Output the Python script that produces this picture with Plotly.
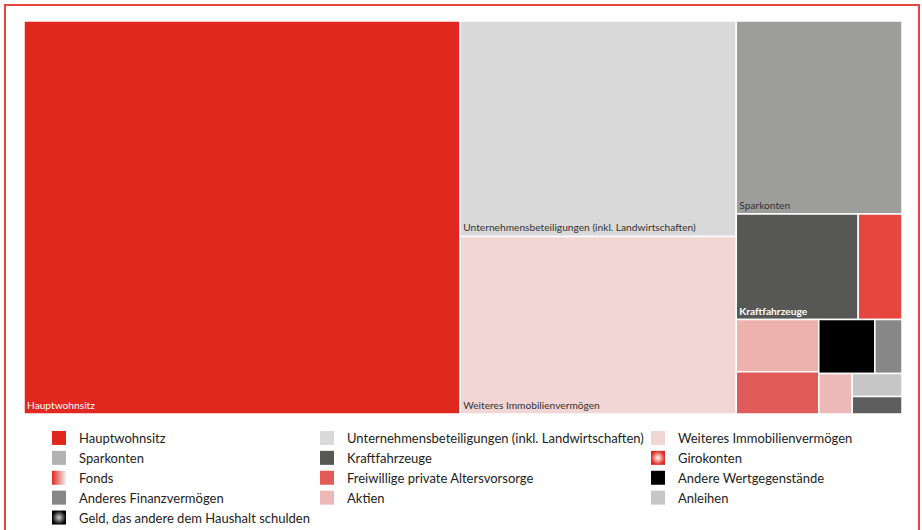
import plotly.graph_objects as go

# ---- data ----
categories = [
    "Hauptwohnsitz",
    "Unternehmensbeteiligungen (inkl. Landwirtschaften)",
    "Weiteres Immobilienvermögen",
    "Sparkonten",
    "Kraftfahrzeuge",
    "Girokonten",
    "Fonds",
    "Freiwillige private Altersvorsorge",
    "Andere Wertgegenstände",
    "Anderes Finanzvermögen",
    "Aktien",
    "Anleihen",
    "Geld, das andere dem Haushalt schulden",
]
values = [49.3, 17.1, 14.1, 9.2, 3.7, 1.33, 1.24, 1.0, 0.87, 0.42, 0.39, 0.33, 0.25]

tile_colors = ["#e0281e", "#d9d9d9", "#f2d5d5", "#9d9d9c", "#575756", "#e5463d",
               "#eeb2ac", "#e15b59", "#000000", "#878787", "#ecb9b8", "#c6c6c6", "#5e5e5e"]
legend_colors = ["#e0281e", "#d9d9d9", "#f2d5d5", "#b2b2b2", "#575756", "#e0281e",
                 "#e0281e", "#e15b59", "#000000", "#878787", "#ecb9b8", "#c6c6c6", "#000000"]
legend_gradients = [None, None, None, None, None, ("radial", "#ffffff"),
                    ("horizontal", "#f2f2f2"), None, None, None, None, None, ("radial", "#d0d0d0")]
tile_text = ["Hauptwohnsitz", "Unternehmensbeteiligungen (inkl. Landwirtschaften)",
             "Weiteres Immobilienvermögen", "Sparkonten", "<b>Kraftfahrzeuge</b>",
             "", "", "", "", "", "", "", ""]
text_colors = ["#ffffff", "#333333", "#333333", "#333333", "#ffffff"] + ["#333333"] * 8
legend_column = [1, 2, 3, 1, 2, 3, 1, 2, 3, 1, 2, 3, 1]

FONT = "Lato, 'Source Sans Pro', sans-serif"
W, H = 922, 530

fig = go.Figure()
fig.add_trace(go.Treemap(
    labels=categories,
    parents=[""] * len(categories),
    values=values,
    text=tile_text,
    textinfo="text",
    textposition="bottom left",
    textfont=dict(family=FONT, size=10.2, color=text_colors),
    marker=dict(colors=tile_colors, line=dict(color="#ffffff", width=1.5),
                pad=dict(t=0, l=0, r=0, b=0)),
    tiling=dict(packing="squarify", squarifyratio=1.618, pad=0),
    pathbar=dict(visible=False),
    sort=True,
    hoverinfo="label+value",
    domain=dict(x=[24 / W, 902 / W], y=[1 - 414 / H, 1 - 21 / H]),
))

legend_names = {1: "legend", 2: "legend2", 3: "legend3"}
for name, col, grad, lc in zip(categories, legend_column, legend_gradients, legend_colors):
    marker = dict(symbol="square", size=14, color=lc, line=dict(width=0))
    if grad:
        marker["gradient"] = dict(type=grad[0], color=grad[1])
    fig.add_trace(go.Scatter(
        x=[None], y=[None], mode="markers", name=name, marker=marker,
        legend=legend_names[col], showlegend=True, hoverinfo="skip",
    ))

leg_common = dict(orientation="v", yanchor="top", xanchor="left",
                  bgcolor="rgba(0,0,0,0)", borderwidth=0,
                  font=dict(family=FONT, size=13, color="#222222"),
                  itemwidth=30, tracegroupgap=0)
leg_y = 1 - 423 / H
fig.update_layout(
    width=W, height=H,
    margin=dict(l=0, r=0, t=0, b=0, autoexpand=False),
    paper_bgcolor="#ffffff", plot_bgcolor="#ffffff",
    xaxis=dict(visible=False, domain=[0, 0.01]),
    yaxis=dict(visible=False, domain=[0, 0.01]),
    legend=dict(x=39 / W, y=leg_y, **leg_common),
    legend2=dict(x=307 / W, y=leg_y, **leg_common),
    legend3=dict(x=638 / W, y=leg_y, **leg_common),
    shapes=[dict(type="rect", xref="paper", yref="paper",
                 x0=5 / W, x1=919 / W, y0=-0.05, y1=1 - 5 / H,
                 line=dict(color="#e8453c", width=2), fillcolor="rgba(0,0,0,0)",
                 layer="above")],
)

fig.write_html("out.html", config={"displayModeBar": False},
               post_script="document.body.style.margin='0';document.body.style.overflow='hidden';")
